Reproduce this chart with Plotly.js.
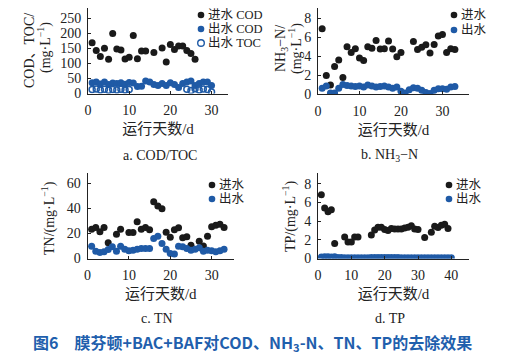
<!DOCTYPE html>
<html>
<head>
<meta charset="utf-8">
<script src="https://cdn.plot.ly/plotly-3.0.1.min.js"></script>
<style>html,body{margin:0;padding:0;background:#fff;}#chart{width:512px;height:358px;}</style>
</head>
<body>
<div id="chart"></div>
<script>
// ---- Data ----
const codInDays  = [1,2,3,4,5,6,7,8,9,10,11,12,13,14,16,18,19,20,21,22,23,24,25,26];
const codIn      = [169,143,123,151,114,200,148,145,115,121,193,116,142,142,137,152,105,163,147,158,158,143,133,114];
const codOutDays = [1,2,3,4,5,6,7,8,9,10,11,12,13,14,15,16,17,18,19,20,21,22,23,24,25,26,27,28,29,30];
const codOut     = [36,38,32,38,30,35,33,36,31,37,35,23,24,42,38,30,27,33,27,36,30,20,33,38,42,27,33,38,38,27];
const tocOutDays = [1,2,3,4,5,6,7,8,9,10,24,25,26,27,28,29,30];
const tocOut     = [13,15,12,14,11,13,12,14,12,13,14,10,16,12,15,13,5];

const nh3InDays  = [1,2,3,4,5,6,7,8,9,10,11,12,13,14,15,16,17,18,19,20,23,24,25,26,27,28,29,30,31,32,33];
const nh3In      = [6.9,1.95,0.95,2.9,3.6,1.75,5.0,4.4,4.8,3.8,3.55,5.0,4.85,5.65,4.75,4.8,5.6,4.75,3.95,4.4,5.55,4.7,4.95,5.2,4.35,5.25,6.15,6.3,4.4,4.8,4.7];
const nh3OutDays = [1,2,3,4,5,6,7,8,9,10,11,12,13,14,15,16,17,18,19,20,21,22,23,24,25,26,27,28,29,30,31,32,33];
const nh3Out     = [0.6,0.85,0.1,0.1,0.6,1.0,0.9,0.85,0.8,0.85,0.75,0.95,0.85,0.75,0.8,0.85,0.75,0.6,0.75,0.3,0.1,0.45,0.65,0.6,0.4,0.15,0.05,0.4,0.55,0.55,0.5,0.75,0.8];

const tnInDays   = [1,2,3,4,5,7,8,10,11,12,13,14,15,16,17,18,19,20,21,22,23,24,25,27,28,29,30,31,32,33];
const tnIn       = [23.4,24.8,21.3,24.8,12.5,19.4,23.4,20.8,20.8,29.3,23.4,24.8,23,45.3,42,39.7,21,17,23,24.5,16.5,17.3,10.6,13.8,10,17.8,25.3,26.6,27.4,24.8];
const tnOutDays  = [1,2,3,4,5,6,7,8,9,10,11,12,13,14,15,16,17,18,19,20,21,22,23,24,25,26,27,28,29,30,31,32,33];
const tnOut      = [9.8,5.8,4.8,5.3,7.2,9.3,5.8,9.8,7.4,6.1,6.6,7.4,7.9,7.9,7.9,16,17.8,12,7.4,4,3.5,9.8,9.3,7.9,6.6,7.4,8.5,5.8,6.6,6.1,5.3,6.1,7.4];

const tpInDays   = [1,2,3,4,5,8,9,10,11,12,16,17,18,19,20,21,22,23,24,25,26,27,28,29,30,32,34,35,36,37,38,39];
const tpIn       = [6.8,5.4,5.0,5.2,1.6,2.3,1.75,1.75,2.3,2.3,2.5,3.05,3.35,3.35,3.1,3.0,3.2,3.15,3.15,3.15,3.25,3.35,3.5,3.15,3.1,2.25,2.8,3.45,3.3,3.55,3.65,3.2];
const tpOutDays  = [1,2,3,4,5,6,7,8,9,10,11,12,13,14,15,16,17,18,19,20,21,22,23,24,25,26,27,28,29,30,31,32,33,34,35,36,37,38,39,40];
const tpOut      = [0.15,0.2,0.2,0.15,0.2,0.1,0.1,0.08,0.08,0.08,0.08,0.08,0.08,0.08,0.08,0.1,0.1,0.12,0.12,0.12,0.12,0.12,0.1,0.1,0.08,0.08,0.08,0.08,0.08,0.08,0.08,0.08,0.08,0.08,0.08,0.08,0.08,0.08,0.08,0.08];

const labels = {
  codIn: '进水 COD', codOut: '出水 COD', tocOut: '出水 TOC',
  inf: '进水', eff: '出水',
  xTitle: '运行天数/d',
  yA1: 'COD、TOC/', yA2: '(mg·L<sup>−1</sup>)',
  yB1: 'NH<sub>3</sub>−N/', yB2: '(mg·L<sup>−1</sup>)',
  yC: 'TN/(mg·L<sup>−1</sup>)',
  yD: 'TP/(mg·L<sup>−1</sup>)',
  subA: 'a. COD/TOC', subB: 'b. NH<sub>3</sub>−N', subC: 'c. TN', subD: 'd. TP',
  caption: '图6　膜芬顿+BAC+BAF对COD、NH<sub>3</sub>-N、TN、TP的去除效果'
};

// ---- Styles ----
const BLACK = '#1a1a1a';
const BLUE = '#1f5aa6';
const INK = '#222';
const SERIF = 'Liberation Serif, Noto Sans CJK SC, serif';
const MS = 7;

function mk(x, y, name, color, axes, open) {
  return {
    type: 'scatter', mode: 'markers', x: x, y: y, name: name,
    xaxis: axes[0], yaxis: axes[1], showlegend: false,
    marker: open ? {symbol: 'circle-open', size: MS - 1, color: color, line: {width: 1.5, color: color}}
                 : {symbol: 'circle', size: MS, color: color}
  };
}

const traces = [
  mk(codInDays, codIn, labels.codIn, BLACK, ['x','y']),
  mk(codOutDays, codOut, labels.codOut, BLUE, ['x','y']),
  mk(tocOutDays, tocOut, labels.tocOut, BLUE, ['x','y'], true),
  mk(nh3InDays, nh3In, labels.inf, BLACK, ['x2','y2']),
  mk(nh3OutDays, nh3Out, labels.eff, BLUE, ['x2','y2']),
  mk(tnInDays, tnIn, labels.inf, BLACK, ['x3','y3']),
  mk(tnOutDays, tnOut, labels.eff, BLUE, ['x3','y3']),
  mk(tpInDays, tpIn, labels.inf, BLACK, ['x4','y4']),
  mk(tpOutDays, tpOut, labels.eff, BLUE, ['x4','y4'])
];

const W = 512, H = 358;
const px = v => v / W;
const py = v => 1 - v / H;

function xax(domL, domR, range, dtick, anchor) {
  return {
    domain: [px(domL), px(domR)], range: range, anchor: anchor, automargin: false,
    showline: true, linecolor: INK, linewidth: 1, mirror: false,
    showgrid: false, zeroline: false,
    ticks: 'inside', ticklen: 3, tickcolor: INK, dtick: dtick, tick0: 0,
    tickfont: {family: SERIF, size: 14, color: INK},
    ticklabelstandoff: 4,
    title: {text: labels.xTitle, font: {family: SERIF, size: 15, color: INK}, standoff: 6}
  };
}
function yax(domTop, domBot, range, dtick, anchor) {
  return {
    domain: [py(domBot), py(domTop)], range: range, anchor: anchor, automargin: false,
    showline: true, linecolor: INK, linewidth: 1, mirror: false,
    showgrid: false, zeroline: false,
    ticks: 'inside', ticklen: 3, tickcolor: INK, dtick: dtick, tick0: 0,
    tickfont: {family: SERIF, size: 14, color: INK},
    ticklabelstandoff: 3
  };
}

function ann(text, xp, yp, size, extra) {
  return Object.assign({
    text: text, x: px(xp), y: py(yp), xref: 'paper', yref: 'paper',
    xanchor: 'center', yanchor: 'middle', showarrow: false,
    font: {family: SERIF, size: size, color: INK}
  }, extra || {});
}
function vtitle(text, xp, yp) {
  return ann(text, xp, yp, 14, {textangle: -90});
}

// legend entries: marker shape + label text
const legendEntries = [
  // [markerX, rowY, color, open, label]
  [201, 15, BLACK, false, labels.codIn],
  [201, 29, BLUE, false, labels.codOut],
  [201, 43, BLUE, true, labels.tocOut],
  [454, 15, BLACK, false, labels.inf],
  [454, 30, BLUE, false, labels.eff],
  [212, 185, BLACK, false, labels.inf],
  [212, 199, BLUE, false, labels.eff],
  [449, 185, BLACK, false, labels.inf],
  [449, 199, BLUE, false, labels.eff]
];
const shapes = legendEntries.map(e => ({
  type: 'circle', xref: 'paper', yref: 'paper',
  xsizemode: 'pixel', ysizemode: 'pixel',
  xanchor: px(e[0]), yanchor: py(e[1]),
  x0: -3.3, x1: 3.3, y0: -3.3, y1: 3.3,
  fillcolor: e[3] ? '#fff' : e[2],
  line: {color: e[2], width: e[3] ? 1.4 : 0}
}));
const legendTexts = legendEntries.map(e =>
  ann(e[4], e[0] + 6, e[1], 12.5, {xanchor: 'left', borderpad: 0}));

const layout = {
  width: W, height: H,
  margin: {l: 0, r: 0, t: 0, b: 0},
  paper_bgcolor: '#fff', plot_bgcolor: 'rgba(0,0,0,0)',
  showlegend: false,
  xaxis:  xax(88, 228, [0, 34], 10, 'y'),
  yaxis:  yax(8.3, 93.5, [0, 284], 50, 'x'),
  xaxis2: xax(318, 469, [0, 36.4], 10, 'y2'),
  yaxis2: yax(8.3, 94, [0, 9.07], 2, 'x2'),
  xaxis3: xax(87.5, 234, [0, 35.4], 10, 'y3'),
  yaxis3: yax(173.3, 258.5, [0, 68], 20, 'x3'),
  xaxis4: xax(318, 469, [0, 45.3], 10, 'y4'),
  yaxis4: yax(173.3, 258.5, [0, 9.1], 2, 'x4'),
  shapes: shapes,
  annotations: [
    vtitle(labels.yA1, 30, 51),
    vtitle(labels.yA2, 45, 48),
    vtitle(labels.yB1, 281, 49),
    vtitle(labels.yB2, 295, 49),
    vtitle(labels.yC, 48, 218),
    vtitle(labels.yD, 289, 217),
    ann(labels.subA, 160, 155, 14),
    ann(labels.subB, 389, 155, 14),
    ann(labels.subC, 157, 318, 14),
    ann(labels.subD, 390, 318, 14),
    ann('<b>' + labels.caption + '</b>', 252, 342, 16,
        {font: {family: 'Noto Sans CJK SC, Noto Sans, sans-serif', size: 16, color: '#1f5fad'}})
  ].concat(legendTexts)
};

Plotly.newPlot('chart', traces, layout, {staticPlot: true, displayModeBar: false});
</script>
</body>
</html>
